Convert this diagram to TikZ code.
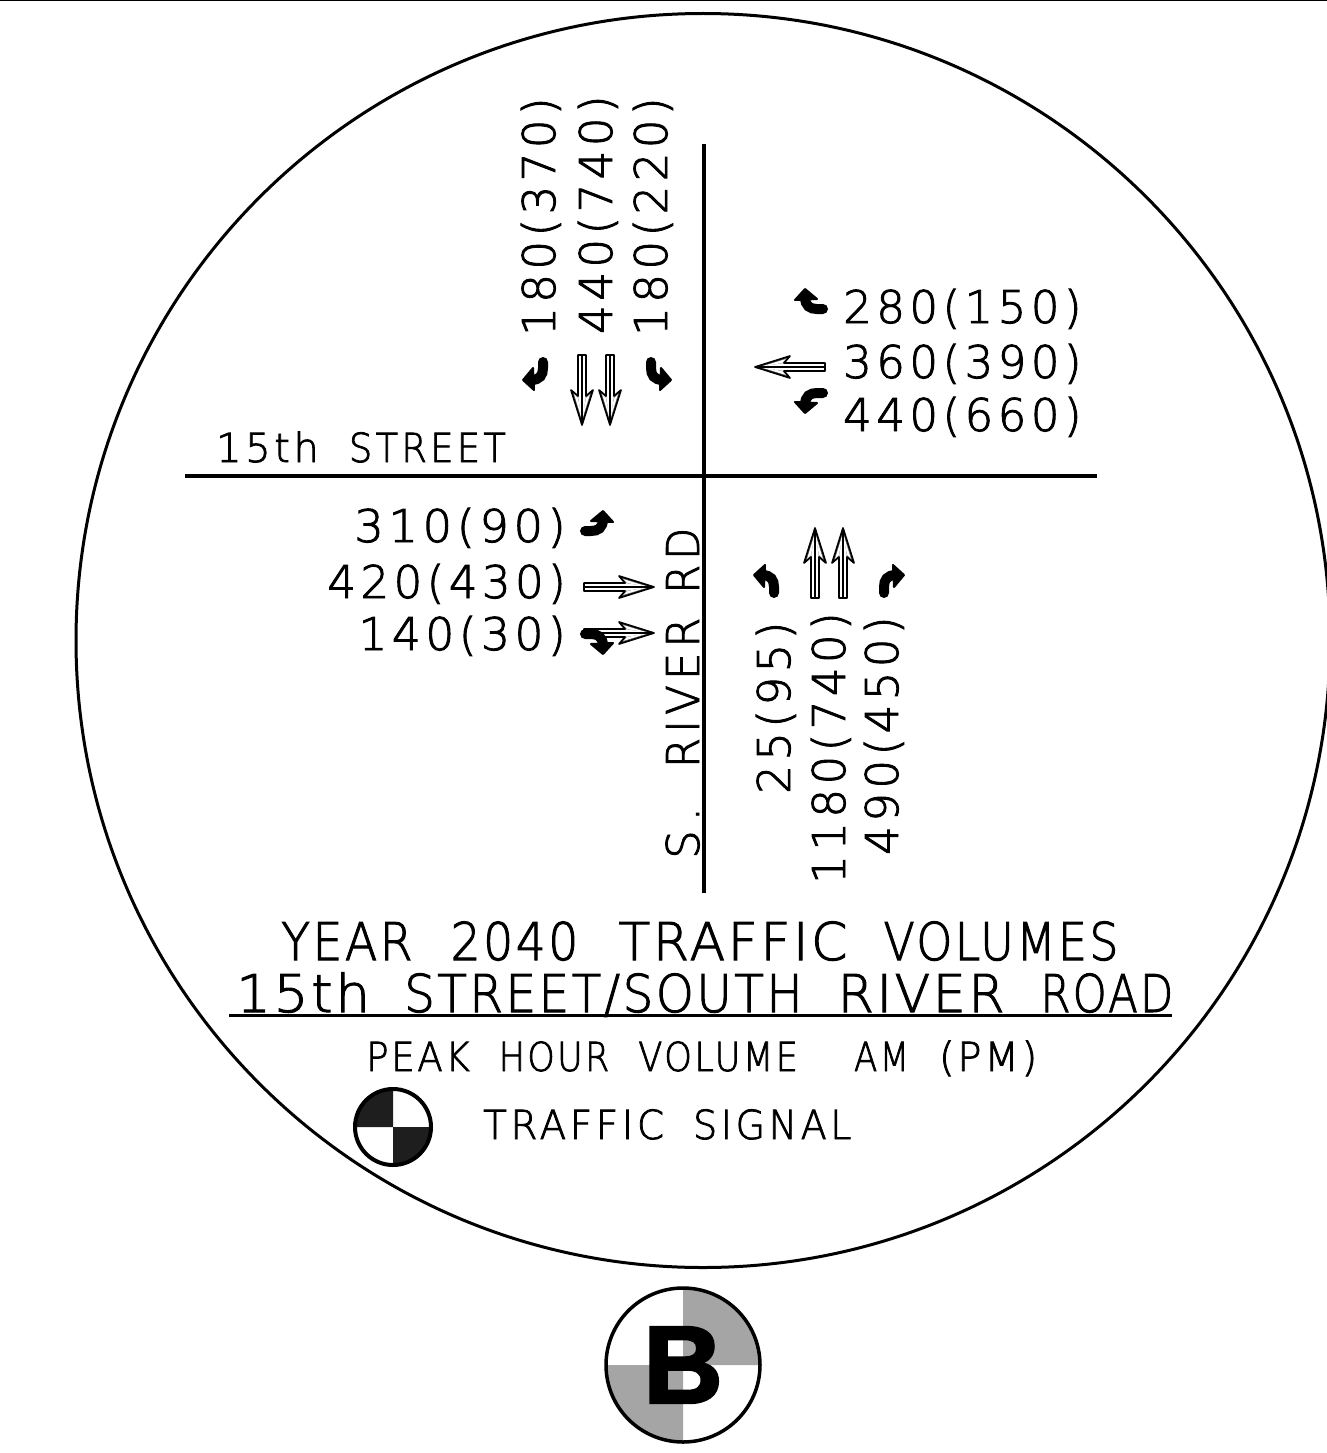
\documentclass[tikz,border=0pt]{standalone}
\usepackage{graphicx}
\usepackage{fontspec}
\newfontfamily\volfont[LetterSpace=10,FakeBold=2]{DejaVu Sans ExtraLight}
\newfontfamily\streetfont[LetterSpace=9,FakeBold=2]{DejaVu Sans ExtraLight}
\newfontfamily\riverfont[LetterSpace=12,FakeBold=2]{DejaVu Sans ExtraLight}
\newfontfamily\titlefont[LetterSpace=5.2,FakeBold=2]{DejaVu Sans ExtraLight}
\newfontfamily\notefont[LetterSpace=7,FakeBold=2]{DejaVu Sans ExtraLight}
\newfontfamily\signalfont[LetterSpace=9.5,FakeBold=2]{DejaVu Sans ExtraLight}
\newfontfamily\badgefont[FakeBold=2.5]{Liberation Sans Bold}
\newcommand\wfit[2]{\scalebox{#1}[1]{#2}}
\definecolor{hatchgray}{RGB}{165,165,165}
\definecolor{hatchdark}{RGB}{30,30,30}
\tikzset{
  road/.style={line width=3.6pt},
  vol/.style={inner sep=0pt,font=\volfont\fontsize{45}{45}\selectfont,anchor=base west},
  volr/.style={inner sep=0pt,font=\volfont\fontsize{45}{45}\selectfont,anchor=base east},
  volv/.style={inner sep=0pt,font=\volfont\fontsize{45}{45}\selectfont,anchor=base west,rotate=90},
  street/.style={inner sep=0pt,font=\streetfont\fontsize{40}{40}\selectfont,anchor=base west},
  river/.style={inner sep=0pt,font=\riverfont\fontsize{45}{45}\selectfont,anchor=base west,rotate=90},
  titletxt/.style={inner sep=0pt,font=\titlefont\fontsize{52}{52}\selectfont,anchor=base west},
  notetxt/.style={inner sep=0pt,font=\notefont\fontsize{40}{40}\selectfont,anchor=base west},
  signaltxt/.style={inner sep=0pt,font=\signalfont\fontsize{40}{40}\selectfont,anchor=base west},
  pics/through/.style={code={
    \fill[white] (0,0)--(-11,35)--(-4,29)--(-4,70)--(4,70)--(4,29)--(11,35)--cycle;
    \fill[black!60] (0,0)--(-11,35)--(-4,29)--cycle (0,0)--(11,35)--(4,29)--cycle;
    \fill[white] (0,5)--(-8,31)--(-4,27)--cycle (0,5)--(8,31)--(4,27)--cycle;
    \draw[line width=1.7pt,line join=round] (0,0)--(-11,35)--(-4,29)--(-4,70)--(4,70)--(4,29)--(11,35)--cycle;
    \draw[line width=1.3pt] (0,0)--(0,70);
  }},
  pics/turn/.style={code={
    \draw[line width=10pt,line cap=round] (0,-2)--(0,-8) .. controls (0,-15) and (3,-20) .. (12,-20);
    \fill[line join=round,draw,line width=2pt] (9,-30)--(20,-20)--(10,-8)--cycle;
  }},
}
\begin{document}
\begin{tikzpicture}[x=1pt,y=-1pt]
\path[use as bounding box,clip] (0,0) rectangle (1327,1453);
\fill[white] (0,0) rectangle (1327,1453);
\coordinate (tl) at (0,0); \coordinate (tr) at (1327,0);
\draw[line width=2.5pt] (tl)--(tr);
\node[circle,draw,line width=3pt,minimum size=1254pt,inner sep=0pt] (frame) at (703,640.5) {};
% roads
\coordinate (rn) at (704,144); \coordinate (rs) at (704,893);
\coordinate (rw) at (185,476); \coordinate (re) at (1097,476);
\draw[road] (rn)--(rs); \draw[road] (rw)--(re);
% volumes
\node[volv] (s1) at (555,336) {180(370)};
\node[volv] (s2) at (612,334) {440(740)};
\node[volv] (s3) at (667,336) {180(220)};
\node[vol] (w1) at (843,323) {280(150)};
\node[vol] (w2) at (843,378) {360(390)};
\node[vol] (w3) at (843,431) {440(660)};
\node[volr] (e1) at (566,542) {\wfit{1.03}{310(90)}};
\node[volr] (e2) at (566,598) {420(430)};
\node[volr] (e3) at (566,650) {\wfit{1.01}{140(30)}};
\node[volv] (n1) at (790,794) {25(95)};
\node[volv] (n2) at (845,884) {1180(740)};
\node[volv] (n3) at (898,855) {490(450)};
\node[street] (st) at (216,462) {15th\hspace{30pt}\wfit{0.92}{STREET}};
\node[river] (rv) at (699,859) {S\hspace{0.2em}.\hspace{0.43em} \wfit{0.96}{RIVER}\hspace{24pt}\wfit{0.92}{RD}};
\node[titletxt] (t1) at (281,960) {\wfit{0.91}{YEAR}\hspace{38pt}\wfit{0.91}{2040}\hspace{40pt}\wfit{1.0}{TRAFFIC}\hspace{36pt}\wfit{0.88}{VOLUMES}};
\node[titletxt] (t2) at (236,1012) {\wfit{1.05}{15th}\hspace{34pt}\wfit{0.93}{STREET/SOUTH}\hspace{35pt}RIVER\hspace{36pt}\wfit{0.83}{ROAD}};
\coordinate (ula) at (229,1015); \coordinate (ulb) at (1172,1015);
\draw[line width=3pt] (ula)--(ulb);
\node[notetxt] (n) at (366,1071) {\wfit{0.93}{PEAK}\hspace{29pt}\wfit{0.87}{HOUR}\hspace{29pt}\wfit{0.88}{VOLUME}\hspace{56pt}\wfit{0.85}{AM}\hspace{30pt}\wfit{1.0}{(PM)}};
\node[signaltxt] (ts) at (483,1139) {\wfit{0.97}{TRAFFIC}\hspace{29pt}\wfit{0.95}{SIGNAL}};
% arrows
\pic at (815,528) {through};
\pic at (843,528) {through};
\pic[rotate=180] at (582,425) {through};
\pic[rotate=180] at (610,425) {through};
\pic[rotate=90] at (755,367) {through};
\pic[rotate=-90] at (654,587) {through};
\pic[rotate=-90] at (654,633) {through};
\pic at (884,595) {turn};
\pic[xscale=-1] at (774,595) {turn};
\pic[rotate=180] at (543,360) {turn};
\pic[rotate=180,xscale=-1] at (651,360) {turn};
\pic[rotate=90] at (825,309) {turn};
\pic[rotate=90,xscale=-1] at (825,393) {turn};
\pic[rotate=-90,xscale=-1] at (583,531) {turn};
\pic[rotate=-90] at (583,634) {turn};
% signal symbol
\coordinate (sc) at (393,1127);
\fill[hatchdark] (sc) -- +(-38,0) arc[start angle=180,end angle=90,radius=38pt] -- cycle;
\fill[hatchdark] (sc) -- +(38,0) arc[start angle=0,end angle=-90,radius=38pt] -- cycle;
\node[circle,draw,line width=4pt,minimum size=76pt,inner sep=0pt] (sig) at (sc) {};
% badge
\coordinate (bc) at (683,1365);
\fill[hatchgray] (bc) -- +(76,0) arc[start angle=0,end angle=90,radius=76pt] -- cycle;
\fill[hatchgray] (bc) -- +(-76,0) arc[start angle=180,end angle=270,radius=76pt] -- cycle;
\node[circle,draw,line width=3.5pt,minimum size=154pt,inner sep=0pt] (badge) at (bc) {};
\node[inner sep=0pt,font=\badgefont\fontsize{110}{110}\selectfont] (bl) at (bc) {B};
\end{tikzpicture}
\end{document}
